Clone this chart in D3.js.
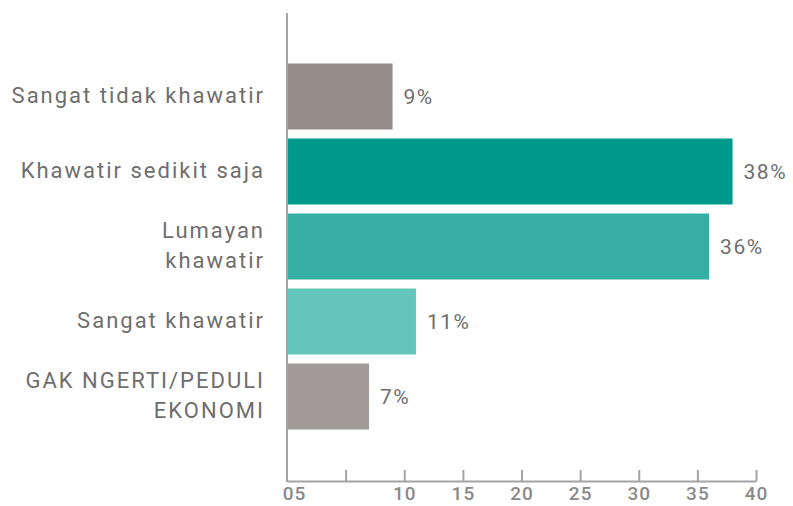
<!DOCTYPE html>
<html>
<head>
<meta charset="utf-8">
<script src="https://cdn.jsdelivr.net/npm/d3@7"></script>
<style>
  html, body { margin: 0; padding: 0; background: #fff; }
  svg { display: block; font-family: "Roboto", "DejaVu Sans", sans-serif; }
</style>
</head>
<body>
<div id="chart"></div>
<script>
// Survey: how worried about the economy (horizontal bars, percent)
var categories = [
    ["Sangat tidak khawatir"],
    ["Khawatir sedikit saja"],
    ["Lumayan", "khawatir"],
    ["Sangat khawatir"],
    ["GAK NGERTI/PEDULI", "EKONOMI"]
];
var values = [9, 38, 36, 11, 7];
var barColors = ["#958b88", "#009a8c", "#36aea3", "#64c5bc", "#a09a99"];
var tickValues = [0, 5, 10, 15, 20, 25, 30, 35, 40];
var tickLabels = ["05", "", "10", "15", "20", "25", "30", "35", "40"];

var totalW = 793, totalH = 506;
var x0 = 287, x1 = 756;

var svg = d3.select("#chart").append("svg")
    .attr("width", totalW)
    .attr("height", totalH);

var x = d3.scaleLinear()
    .domain([0, 40])
    .range([x0, x1]);

var y = d3.scaleBand()
    .domain(d3.range(categories.length))
    .range([59, 434])
    .paddingInner(0.12)
    .paddingOuter(0.06);

var textColor = "#6e6e6e";
var axisColor = "#a3a3a3";

// --- Bars ---
svg.append("g").selectAll("rect")
    .data(values)
    .join("rect")
        .attr("x", x(0))
        .attr("y", function(d, i) { return y(i); })
        .attr("width", function(d) { return x(d) - x(0); })
        .attr("height", y.bandwidth())
        .attr("fill", function(d, i) { return barColors[i]; });

// --- Value labels ---
svg.append("g").selectAll("text")
    .data(values)
    .join("text")
        .attr("x", function(d) { return x(d) + 11; })
        .attr("y", function(d, i) { return y(i) + y.bandwidth() / 2 + 2; })
        .attr("dominant-baseline", "middle")
        .style("font-size", "21px")
        .style("letter-spacing", "1.5px")
        .style("fill", textColor)
        .text(function(d) { return d + "%"; });

// --- Category labels (right aligned, may wrap) ---
var catG = svg.append("g");
categories.forEach(function(lines, i) {
    var cy = y(i) + y.bandwidth() / 2;
    var t = catG.append("text")
        .attr("text-anchor", "end")
        .style("font-size", "22px")
        .style("letter-spacing", "2px")
        .style("fill", textColor);
    lines.forEach(function(line, j) {
        t.append("tspan")
            .attr("x", 265)
            .attr("y", cy + (j - (lines.length - 1) / 2) * 30 + 1)
            .attr("dominant-baseline", "middle")
            .text(line);
    });
});

// --- Y axis line ---
svg.append("line")
    .attr("x1", x(0)).attr("x2", x(0))
    .attr("y1", 13).attr("y2", 482)
    .attr("stroke", axisColor)
    .attr("stroke-width", 2);

// --- X axis (ticks pointing up) ---
var xAxis = svg.append("g")
    .attr("transform", "translate(0,481)")
    .call(d3.axisBottom(x)
        .tickValues(tickValues)
        .tickSize(-11)
        .tickSizeOuter(0)
        .tickPadding(6)
        .tickFormat(function(d, i) { return tickLabels[i]; }));

xAxis.select(".domain")
    .attr("stroke", axisColor)
    .attr("stroke-width", 2);
xAxis.selectAll(".tick line")
    .attr("stroke", axisColor)
    .attr("stroke-width", 2);
xAxis.selectAll(".tick").filter(function(d) { return d === 0; }).select("line").remove();
xAxis.selectAll(".tick text")
    .attr("dx", function(d) { return d === 0 ? 7 : 0; })
    .style("font-family", "Roboto, sans-serif")
    .style("font-size", "19px")
    .style("font-weight", "500")
    .style("letter-spacing", "1px")
    .style("fill", "#8a8a8a");
</script>
</body>
</html>
